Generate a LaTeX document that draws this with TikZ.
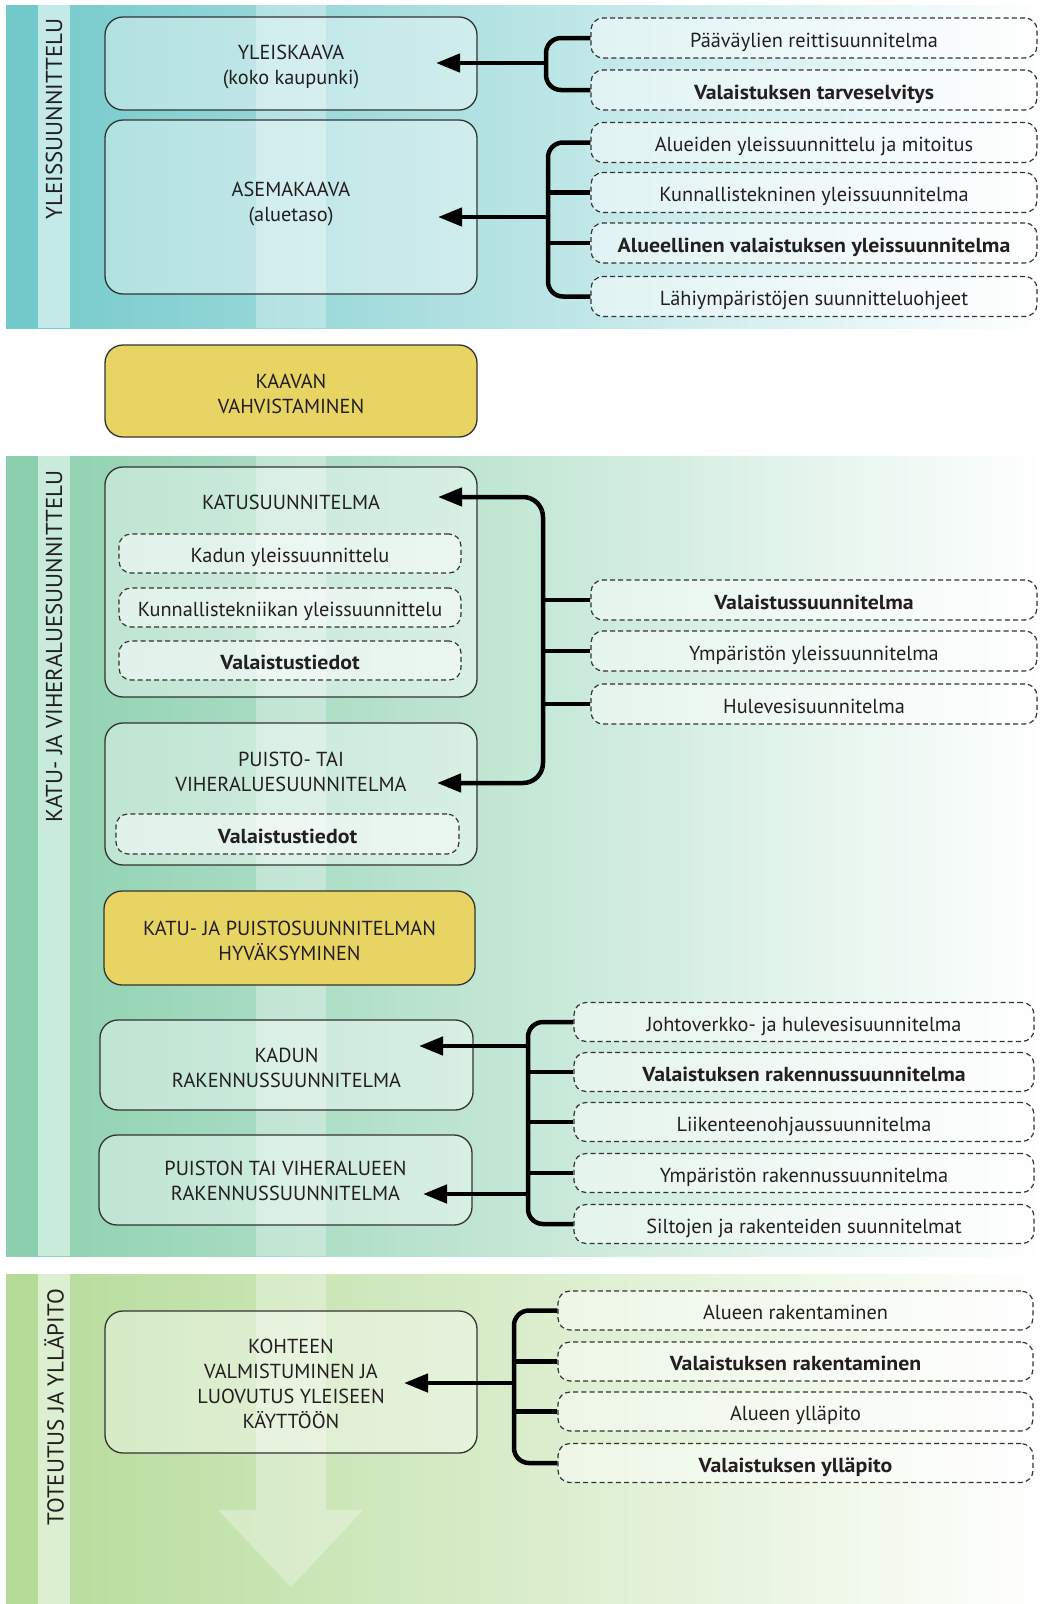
\documentclass[tikz,border=0pt]{standalone}
\usepackage{fontspec}
\setmainfont{PT Sans}[BoldFeatures={FakeStretch=1.075}]
\usetikzlibrary{arrows.meta}
\definecolor{txt}{HTML}{231F20}
\definecolor{boxline}{HTML}{333333}
\definecolor{ybox}{HTML}{E8D463}
\definecolor{bA}{HTML}{72C9CA}
\definecolor{bAm}{HTML}{ACDFDF}
\definecolor{bAs}{HTML}{C3E9E8}
\definecolor{bB}{HTML}{8BD0AE}
\definecolor{bBm}{HTML}{BBE4CF}
\definecolor{bBs}{HTML}{C9EBDB}
\definecolor{bC}{HTML}{B5DB98}
\definecolor{bCm}{HTML}{D3EAC2}
\definecolor{bCs}{HTML}{DCEFD0}
\newcommand{\bxfont}{\fontsize{20.3}{25}\selectfont}
\newcommand{\sdfont}{\fontsize{23}{28}\selectfont}
\begin{document}
\begin{tikzpicture}[x=1pt,y=-1pt,
  conn/.style={line width=4.5pt, draw=black},
  tip/.style={-{Triangle[length=24pt,width=18pt]}},
  mainbox/.style={draw=boxline, line width=1.3pt, rounded corners=18pt, fill=white, fill opacity=0.4, inner sep=0pt},
  yellowbox/.style={mainbox, fill=ybox, fill opacity=1},
  dbox/.style={draw=boxline, line width=1.2pt, dash pattern=on 5pt off 3.2pt, rounded corners=12pt, fill=white, fill opacity=0.5, text opacity=1, inner sep=0pt, font=\bxfont, text=txt, text height=22pt, text depth=4pt},
  sidelabel/.style={rotate=90, anchor=east, font=\sdfont, text=txt, inner sep=0pt},
  txtnode/.style={align=center, font=\bxfont, text=txt, inner sep=0pt},
]
\useasboundingbox (0,0) rectangle (1046,1604);
\fill[white] (0,0) rectangle (1046,1604);
% bands
\shade[left color=bA, middle color=bAm, right color=white] (6,5) rectangle (1046,328);
\fill[bA] (6,5) rectangle (38,328);
\fill[bAs] (38,5) rectangle (70,328);
\shade[left color=bB, middle color=bBm, right color=white] (6,456) rectangle (1046,1256);
\fill[bB] (6,456) rectangle (38,1256);
\fill[bBs] (38,456) rectangle (70,1256);
\shade[left color=bC, middle color=bCm, right color=white] (6,1274) rectangle (1046,1604);
\fill[bC] (6,1274) rectangle (38,1604);
\fill[bCs] (38,1274) rectangle (70,1604);
% shaft of big arrow
\fill[white, opacity=0.3] (256,5) rectangle (326,328);
\fill[white, opacity=0.3] (256,456) rectangle (326,1256);
\fill[white, opacity=0.3] (256,1274) -- (326,1274) -- (326,1510) -- (363,1510) -- (291,1587) -- (218,1510) -- (256,1510) -- cycle;
% side labels
\node[sidelabel] (lab1) at (54,18) {YLEISSUUNNITTELU};
\node[sidelabel] (lab2) at (54,470) {KATU- JA VIHERALUESUUNNITTELU};
\node[sidelabel] (lab3) at (54,1289) {TOTEUTUS JA YLLÄPITO};
% main boxes
\node[mainbox, minimum width=372pt, minimum height=93pt] (yk) at (291,63.5) {};
\node[txtnode] (ykt) at (291,67) {YLEISKAAVA\\(koko kaupunki)};
\node[mainbox, minimum width=372pt, minimum height=174pt] (ak) at (291,207) {};
\node[txtnode] (akt) at (291,204.5) {ASEMAKAAVA\\(aluetaso)};
\node[yellowbox, minimum width=372pt, minimum height=92pt] (kv) at (291,391) {};
\node[txtnode] (kvt) at (291,393.5) {KAAVAN\\VAHVISTAMINEN};
\node[mainbox, minimum width=372pt, minimum height=230pt] (ks) at (291,582) {};
\node[txtnode] (kst) at (291,502.5) {KATUSUUNNITELMA};
\node[dbox, minimum width=342pt, minimum height=39pt] (i1) at (290,553.5) {Kadun yleissuunnittelu};
\node[dbox, minimum width=342pt, minimum height=39pt] (i2) at (290,607.5) {Kunnallistekniikan yleissuunnittelu};
\node[dbox, minimum width=342pt, minimum height=39pt] (i3) at (290,660.5) {\textbf{Valaistustiedot}};
\node[mainbox, minimum width=372pt, minimum height=142pt] (ps) at (291,794) {};
\node[txtnode] (pst) at (291,771.5) {PUISTO- TAI\\VIHERALUESUUNNITELMA};
\node[dbox, minimum width=343pt, minimum height=40pt] (i4) at (287.5,834) {\textbf{Valaistustiedot}};
\node[yellowbox, minimum width=371pt, minimum height=94pt] (hy) at (289.5,938) {};
\node[txtnode] (hyt) at (289.5,940.5) {KATU- JA PUISTOSUUNNITELMAN\\HYVÄKSYMINEN};
\node[mainbox, minimum width=373pt, minimum height=90pt] (kr) at (286.5,1065) {};
\node[txtnode] (krt) at (286.5,1067.5) {KADUN\\RAKENNUSSUUNNITELMA};
\node[mainbox, minimum width=373pt, minimum height=90pt] (pr) at (285.5,1180) {};
\node[txtnode] (prt) at (285.5,1181) {PUISTON TAI VIHERALUEEN\\RAKENNUSSUUNNITELMA};
\node[mainbox, minimum width=372pt, minimum height=142pt] (ko) at (291,1382) {};
\node[txtnode] (kot) at (291,1384) {KOHTEEN\\VALMISTUMINEN JA\\LUOVUTUS YLEISEEN\\KÄYTTÖÖN};
% right dashed boxes, band 1
\node[dbox, minimum width=446pt, minimum height=40pt] (r1) at (814,38) {Pääväylien reittisuunnitelma};
\node[dbox, minimum width=446pt, minimum height=40pt] (r2) at (814,90) {\textbf{Valaistuksen tarveselvitys}};
\node[dbox, minimum width=446pt, minimum height=40pt] (r3) at (814,142.5) {Alueiden yleissuunnittelu ja mitoitus};
\node[dbox, minimum width=446pt, minimum height=40pt] (r4) at (814,192.5) {Kunnallistekninen yleissuunnitelma};
\node[dbox, minimum width=446pt, minimum height=40pt] (r5) at (814,243) {\textbf{Alueellinen valaistuksen yleissuunnitelma}};
\node[dbox, minimum width=446pt, minimum height=40pt] (r6) at (814,296.5) {Lähiympäristöjen suunnitteluohjeet};
% band 2 upper
\node[dbox, minimum width=446pt, minimum height=40pt] (r7) at (814,600) {\textbf{Valaistussuunnitelma}};
\node[dbox, minimum width=446pt, minimum height=40pt] (r8) at (814,651) {Ympäristön yleissuunnitelma};
\node[dbox, minimum width=446pt, minimum height=40pt] (r9) at (814,704) {Hulevesisuunnitelma};
% band 2 lower
\node[dbox, minimum width=460pt, minimum height=39pt] (r10) at (804,1022) {Johtoverkko- ja hulevesisuunnitelma};
\node[dbox, minimum width=460pt, minimum height=39pt] (r11) at (804,1072) {\textbf{Valaistuksen rakennussuunnitelma}};
\node[dbox, minimum width=460pt, minimum height=39pt] (r12) at (804,1122) {Liikenteenohjaussuunnitelma};
\node[dbox, minimum width=460pt, minimum height=39pt] (r13) at (804,1173) {Ympäristön rakennussuunnitelma};
\node[dbox, minimum width=460pt, minimum height=39pt] (r14) at (804,1224) {Siltojen ja rakenteiden suunnitelmat};
% band 3
\node[dbox, minimum width=475pt, minimum height=39pt] (r15) at (795.5,1310.5) {Alueen rakentaminen};
\node[dbox, minimum width=475pt, minimum height=39pt] (r16) at (795.5,1361.5) {\textbf{Valaistuksen rakentaminen}};
\node[dbox, minimum width=475pt, minimum height=39pt] (r17) at (795.5,1411.5) {Alueen ylläpito};
\node[dbox, minimum width=475pt, minimum height=39pt] (r18) at (795.5,1463) {\textbf{Valaistuksen ylläpito}};
% connectors
\coordinate (t1) at (436,63); \coordinate (s1) at (546,63);
\draw[conn, rounded corners=15pt] (r1.west) -- (r1.west -| s1) -- (r2.west -| s1) -- (r2.west);
\draw[conn, tip] (s1) -- (t1);
\coordinate (t2) at (438,217); \coordinate (s2) at (548,217);
\draw[conn, rounded corners=15pt] (r3.west) -- (r3.west -| s2) -- (r6.west -| s2) -- (r6.west);
\draw[conn] (r4.west -| s2) -- (r4.west);
\draw[conn] (r5.west -| s2) -- (r5.west);
\draw[conn, tip] (s2) -- (t2);
\coordinate (t3) at (438,497); \coordinate (t4) at (437,783); \coordinate (s3) at (543,640);
\draw[conn, rounded corners=20pt, {Triangle[length=24pt,width=18pt]}-{Triangle[length=24pt,width=18pt]}] (t3) -- (t3 -| s3) -- (t4 -| s3) -- (t4);
\draw[conn] (r7.west -| s3) -- (r7.west);
\draw[conn] (r8.west -| s3) -- (r8.west);
\draw[conn] (r9.west -| s3) -- (r9.west);
\coordinate (t5) at (419,1046); \coordinate (t6) at (423,1194); \coordinate (s4) at (528,1120);
\draw[conn, rounded corners=15pt] (r10.west) -- (r10.west -| s4) -- (r14.west -| s4) -- (r14.west);
\draw[conn] (r11.west -| s4) -- (r11.west);
\draw[conn] (r12.west -| s4) -- (r12.west);
\draw[conn] (r13.west -| s4) -- (r13.west);
\draw[conn, tip] (s4 |- t5) -- (t5);
\draw[conn, tip] (s4 |- t6) -- (t6);
\coordinate (t7) at (404,1383); \coordinate (s5) at (514,1383);
\draw[conn, rounded corners=15pt] (r15.west) -- (r15.west -| s5) -- (r18.west -| s5) -- (r18.west);
\draw[conn] (r16.west -| s5) -- (r16.west);
\draw[conn] (r17.west -| s5) -- (r17.west);
\draw[conn, tip] (s5) -- (t7);
\end{tikzpicture}
\end{document}
